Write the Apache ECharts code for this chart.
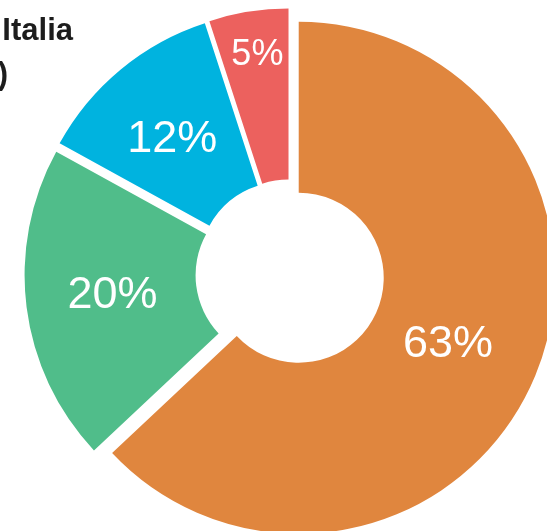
<!DOCTYPE html>
<html>
<head>
<meta charset="utf-8">
<script src="https://cdn.jsdelivr.net/npm/echarts@6/dist/echarts.min.js"></script>
<style>
html,body{margin:0;padding:0;background:#fff;}
#c{width:547px;height:531px;}
</style>
</head>
<body>
<div id="c"></div>
<script>
// Data
const categories = ['A', 'B', 'C', 'D'];
const values = [63, 20, 12, 5];
const labels = ['63%', '20%', '12%', '5%'];
const colors = ['#E0863E', '#50BD8A', '#00B3DF', '#EC615E'];
const titleLines = ['Italia', ')'];

// label tweaks (style, not data)
const labelShift = [[-10, -2], [4, -1], [-1, 7], [-4, -38]];
const labelSizes = [45, 45, 45, 36];

const chart = echarts.init(document.getElementById('c'), null, {renderer: 'canvas'});
const data = categories.map((c, i) => ({
  name: c,
  value: values[i],
  selected: true,
  itemStyle: {color: colors[i]},
  label: {
    formatter: labels[i],
    fontSize: labelSizes[i]
  }
}));

const titleFont = 'bold 31px "Liberation Sans", Arial, sans-serif';
chart.setOption({
  animation: false,
  graphic: [
    {type: 'text', x: 73, y: 31, style: {text: titleLines[0], align: 'right', verticalAlign: 'middle', font: titleFont, fill: '#1d1d1d'}},
    {type: 'text', x: 8, y: 75, style: {text: titleLines[1], align: 'right', verticalAlign: 'middle', font: titleFont, fill: '#1d1d1d'}}
  ],
  series: [{
    type: 'pie',
    center: [290, 274],
    radius: [85, 256],
    startAngle: 90,
    clockwise: true,
    selectedMode: 'multiple',
    selectedOffset: 9.5,
    avoidLabelOverlap: false,
    itemStyle: {borderWidth: 0},
    emphasis: {disabled: true},
    select: {itemStyle: {borderWidth: 0}},
    label: {
      show: true,
      position: 'inside',
      color: '#ffffff',
      fontFamily: '"Liberation Sans", Arial, sans-serif',
      fontWeight: 'normal'
    },
    labelLayout: function (p) {
      const s = labelShift[p.dataIndex];
      return {dx: s[0], dy: s[1]};
    },
    labelLine: {show: false},
    data: data
  }]
});
</script>
</body>
</html>
